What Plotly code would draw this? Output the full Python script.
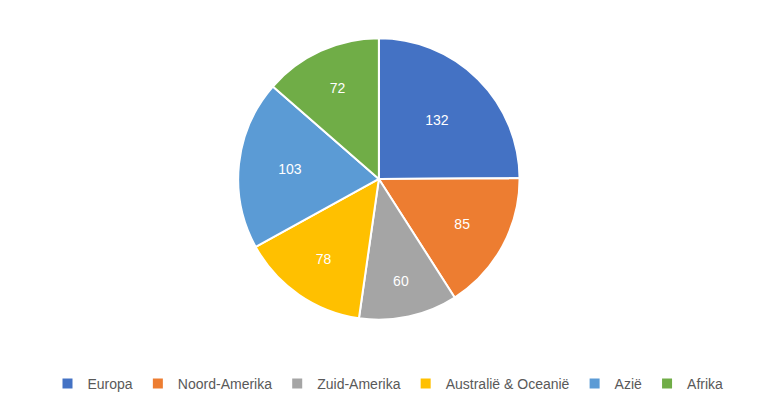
import plotly.graph_objects as go

regions = ["Europa", "Noord-Amerika", "Zuid-Amerika", "Australië & Oceanië", "Azië", "Afrika"]
counts = [132, 85, 60, 78, 103, 72]
colors = ["#4472C4", "#ED7D31", "#A5A5A5", "#FFC000", "#5B9BD5", "#70AD47"]

fig = go.Figure(go.Pie(
    labels=regions,
    values=counts,
    sort=False,
    direction="clockwise",
    rotation=0,
    marker=dict(colors=colors, line=dict(color="white", width=2)),
    textinfo="value",
    textposition="inside",
    insidetextorientation="horizontal",
    textfont=dict(color="white", size=14),
    domain=dict(x=[0.188, 0.788], y=[0.249, 0.927]),
    hoverinfo="label+value",
))

fig.update_layout(
    width=760, height=415,
    margin=dict(l=0, r=0, t=0, b=0),
    paper_bgcolor="white",
    font=dict(family="Liberation Sans, Arial, sans-serif", color="#595959", size=14),
    legend=dict(orientation="h", x=0.5, xanchor="center", y=0.094, yanchor="middle",
                font=dict(size=14, color="#595959"), itemwidth=30),
)

fig.write_html("out.html")
